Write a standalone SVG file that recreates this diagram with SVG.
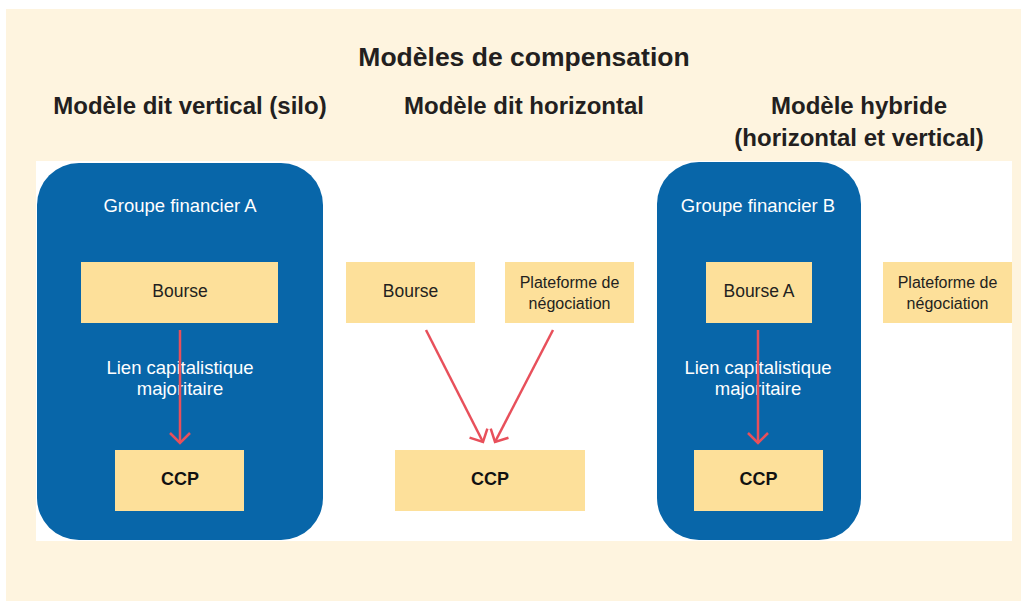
<svg xmlns="http://www.w3.org/2000/svg" width="1028" height="601" viewBox="0 0 1028 601">
  <defs>
    <marker id="head" markerUnits="userSpaceOnUse" markerWidth="24" markerHeight="24" viewBox="-12 -12 24 24" refX="0" refY="0" orient="auto">
      <path d="M-10,-10 L0,0 L-10,10" fill="none" stroke="#E8505B" stroke-width="2.5"/>
    </marker>
    <style>
      .hd { font-family: "Liberation Sans", Arial, sans-serif; font-weight: bold; fill: #231f20; text-anchor: middle; }
      .grp { fill: #0866A9; }
      .box { fill: #FDE09A; }
      .wt { font-family: "Liberation Sans", Arial, sans-serif; font-size: 18.5px; fill: #ffffff; text-anchor: middle; }
      .bt { font-family: "Liberation Sans", Arial, sans-serif; font-size: 17.5px; fill: #231f20; text-anchor: middle; }
      .pt { font-family: "Liberation Sans", Arial, sans-serif; font-size: 16px; fill: #231f20; text-anchor: middle; }
      .ccp { font-family: "Liberation Sans", Arial, sans-serif; font-size: 18px; font-weight: bold; fill: #111111; text-anchor: middle; }
      .arr { stroke: #E8505B; stroke-width: 2.5; fill: none; marker-end: url(#head); }
    </style>
  </defs>

  <rect x="0" y="0" width="1028" height="601" fill="#ffffff"/>
  <rect x="6" y="9" width="1015" height="592" fill="#FEF4DF"/>
  <rect x="36" y="161" width="976" height="380" fill="#ffffff"/>

  <g id="titles">
    <text class="hd" x="524" y="66" font-size="26.5">Modèles de compensation</text>
    <text class="hd" x="190" y="114" font-size="24">Modèle dit vertical (silo)</text>
    <text class="hd" x="524" y="114" font-size="24">Modèle dit horizontal</text>
    <text class="hd" x="859" y="114" font-size="24">Modèle hybride</text>
    <text class="hd" x="859" y="146" font-size="24">(horizontal et vertical)</text>
  </g>

  <g id="groupeA">
    <rect class="grp" x="37" y="163" width="286" height="377" rx="42" ry="42"/>
    <text class="wt" x="180" y="212">Groupe financier A</text>
    <text class="wt" x="180" y="374">Lien capitalistique</text>
    <text class="wt" x="180" y="395">majoritaire</text>
  </g>
  <g id="bourseA">
    <rect class="box" x="81" y="262" width="197" height="61"/>
    <text class="bt" x="180" y="297">Bourse</text>
  </g>
  <g id="ccpA">
    <rect class="box" x="115" y="450" width="129" height="61"/>
    <text class="ccp" x="180" y="485">CCP</text>
  </g>

  <g id="bourseH">
    <rect class="box" x="346" y="262" width="129" height="61"/>
    <text class="bt" x="410.5" y="297">Bourse</text>
  </g>
  <g id="plateformeH">
    <rect class="box" x="505" y="262" width="129" height="61"/>
    <text class="pt" x="569.5" y="288">Plateforme de</text>
    <text class="pt" x="569.5" y="309">négociation</text>
  </g>
  <g id="ccpH">
    <rect class="box" x="395" y="450" width="190" height="61"/>
    <text class="ccp" x="490" y="485">CCP</text>
  </g>

  <g id="groupeB">
    <rect class="grp" x="657" y="162" width="204" height="378" rx="42" ry="42"/>
    <text class="wt" x="758" y="212">Groupe financier B</text>
    <text class="wt" x="758" y="374">Lien capitalistique</text>
    <text class="wt" x="758" y="395">majoritaire</text>
  </g>
  <g id="bourseB">
    <rect class="box" x="706" y="262" width="106" height="61"/>
    <text class="bt" x="759" y="297">Bourse A</text>
  </g>
  <g id="ccpB">
    <rect class="box" x="694" y="450" width="129" height="61"/>
    <text class="ccp" x="758.5" y="485">CCP</text>
  </g>
  <g id="plateformeB">
    <rect class="box" x="883" y="262" width="129" height="61"/>
    <text class="pt" x="947.5" y="288">Plateforme de</text>
    <text class="pt" x="947.5" y="309">négociation</text>
  </g>

  <g id="connectors">
    <line class="arr" x1="180" y1="330" x2="180" y2="443"/>
    <line class="arr" x1="426" y1="330" x2="483" y2="442"/>
    <line class="arr" x1="553" y1="330" x2="495" y2="442"/>
    <line class="arr" x1="758" y1="330" x2="758" y2="443"/>
  </g>
</svg>
